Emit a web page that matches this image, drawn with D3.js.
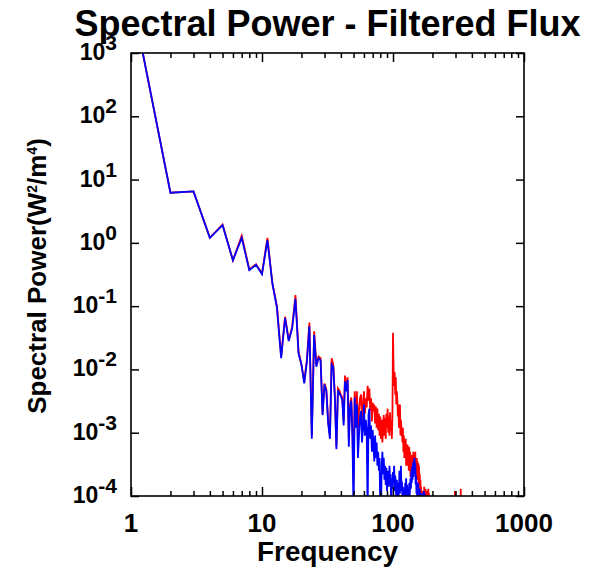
<!DOCTYPE html>
<meta charset="utf-8">
<head>
    <title>Spectral Power - Filtered Flux</title>
    <style>
        body {
            margin: 0;
            background-color: #ffffff;
        }
        text {
            font-family: "Liberation Sans", Arial, sans-serif;
            font-weight: bold;
            fill: #000;
        }
        .axis path {
            display: none;
        }
        .axis line {
            stroke: #000;
            stroke-width: 1.5px;
        }
        .frame {
            fill: none;
            stroke: #000;
            stroke-width: 1.6px;
        }
        .series {
            fill: none;
            stroke-width: 1.8px;
            stroke-linejoin: miter;
        }
    </style>
</head>
<body>
<svg width="592" height="569"></svg>

<script src="https://d3js.org/d3.v7.min.js"></script>
<script>
    // frequencies 1..200 (one value per integer frequency)
    var freq = d3.range(1, 201);

    // blue series (drawn on top)
    var bluePower = [
        8700, 6.2, 6.5, 1.2, 1.9, 0.53, 1.2, 0.37, 0.45, 0.32,
        1.1, 0.23, 0.095, 0.015, 0.065, 0.028, 0.045, 0.13, 0.018, 0.012,
        0.006, 0.013, 0.048, 0.0008, 0.035, 0.011, 0.015, 0.014, 0.0019, 0.0058,
        0.0045, 0.0014, 0.0008, 0.012, 0.011, 0.0035, 0.00055, 0.0047, 0.0042, 0.0038,
        0.0033, 0.0013, 0.0065, 0.0045, 0.0068, 0.0006, 0.0025, 0.0032, 0.0009, 0.00005,
        0.0036, 0.0012, 0.0028, 0.0004, 0.0009, 0.0018, 0.0022, 0.0007, 0.0012, 0.0028,
        0.0009, 0.0016, 0.0011, 0.00005, 0.0019, 0.0024, 0.0008, 0.0013, 0.0005, 0.0011,
        0.0006, 0.00035, 0.0009, 0.0004, 0.0007, 0.0003, 0.0005, 0.00025, 0.0004, 0.00005,
        0.00005, 0.0003, 0.0005, 0.00022, 0.0004, 0.00018, 0.0003, 0.00015, 0.00028, 0.00012,
        0.00025, 0.0002, 0.00014, 0.0003, 0.00017, 0.00022, 0.00005, 0.00019, 0.00013, 0.00024,
        0.00016, 0.0003, 0.00012, 0.00021, 0.00014, 0.00009, 0.00018, 0.00011, 0.00016, 0.00008,
        0.00013, 0.00025, 0.00011, 0.00019, 0.0003, 0.00012, 0.00017, 0.00009, 0.00014, 0.00011,
        0.00008, 0.00013, 0.0001, 0.00016, 0.00012, 0.00019, 0.00009, 0.00015, 0.00011, 0.00007,
        0.00012, 0.00009, 0.00016, 0.0001, 0.00014, 0.00019, 0.00013, 0.00025, 0.00016, 0.00029,
        0.00018, 0.00033, 0.0002, 0.00037, 0.00024, 0.0004, 0.00022, 0.00033, 0.00015, 0.00021,
        0.00011, 0.00017, 0.00008, 0.00014, 0.0001, 0.00016, 0.00007, 0.00012, 0.00009, 0.00013,
        0.00006, 0.0001, 0.00007, 0.00011, 0.00006, 0.00009, 0.00005, 0.00008, 0.00011, 0.00006,
        0.0001, 0.00012, 0.00007, 0.00011, 0.00005, 0.00009, 0.00004, 0.00007, 0.00003, 0.00005,
        0.00003, 0.00005, 0.00002, 0.00004, 0.00002, 0.00003, 0.00002, 0.00002, 0.00001, 0.00002,
        0.00001, 0.00001, 0.00001, 0.00001, 0.00001, 0.00001, 0.00001, 0.00001, 0.00001, 0.00001
    ];

    // red series (underneath)
    var redPower = [
        8700, 6.2, 6.5, 1.2, 1.95, 0.53, 1.3, 0.38, 0.46, 0.33,
        1.2, 0.23, 0.1, 0.016, 0.068, 0.029, 0.047, 0.15, 0.019, 0.012,
        0.0065, 0.014, 0.055, 0.0009, 0.04, 0.012, 0.016, 0.015, 0.002, 0.006,
        0.0048, 0.0015, 0.0009, 0.015, 0.012, 0.0038, 0.0006, 0.005, 0.0046, 0.004,
        0.0036, 0.0015, 0.008, 0.005, 0.0075, 0.0008, 0.0028, 0.0036, 0.0011, 0.00016,
        0.0045, 0.0016, 0.0045, 0.0012, 0.0022, 0.0035, 0.004, 0.0015, 0.0028, 0.0045,
        0.002, 0.0035, 0.0025, 0.0055, 0.0032, 0.005, 0.0022, 0.0035, 0.0015, 0.003,
        0.0022, 0.0028, 0.0014, 0.0026, 0.0012, 0.0024, 0.0011, 0.002, 0.0009, 0.0018,
        0.0008, 0.0016, 0.0007, 0.0013, 0.0019, 0.0009, 0.0017, 0.0008, 0.002, 0.0012,
        0.0024, 0.001, 0.0018, 0.0009, 0.0021, 0.0011, 0.0015, 0.0008, 0.0019, 0.038,
        0.0105, 0.0055, 0.009, 0.004, 0.0075, 0.0028, 0.0045, 0.0032, 0.0018, 0.0028,
        0.0012, 0.0022, 0.0028, 0.0009, 0.0016, 0.0012, 0.0011, 0.0007, 0.0012, 0.0005,
        0.0009, 0.0004, 0.0007, 0.0005, 0.0008, 0.0003, 0.0006, 0.0004, 0.00065, 0.0003,
        0.0005, 0.00025, 0.0006, 0.0003, 0.0005, 0.0002, 0.0004, 0.00025, 0.00045, 0.0002,
        0.0004, 0.0003, 0.0005, 0.00022, 0.0004, 0.00035, 0.0003, 0.0005, 0.0002, 0.00032,
        0.00025, 0.0004, 0.00018, 0.00035, 0.0002, 0.00033, 0.00015, 0.0003, 0.00016, 0.00022,
        0.0001, 0.00018, 0.00008, 0.00014, 0.00006, 0.00012, 0.00005, 0.0001, 0.00004, 0.00008,
        0.00012, 0.00007, 0.00014, 0.00009, 0.00011, 0.00006, 0.00013, 0.00008, 0.00012, 0.00007,
        0.00011, 0.00006, 0.0001, 0.00012, 0.00008, 0.00013, 0.00006, 0.00011, 0.00005, 0.00007,
        0.00004, 0.00006, 0.00003, 0.00004, 0.00002, 0.00003, 0.00002, 0.00002, 0.00001, 0.00001
    ];

    // sparse red tail above 200
    var redTailFreq = [250, 296, 297, 298, 328, 329, 330, 400];
    var redTailPower = [0.00001, 0.00002, 0.00012, 0.00002, 0.00002, 0.00013, 0.00002, 0.00001];

    var xTickLabels = ["1", "10", "100", "1000"];
    var xTickValues = [1, 10, 100, 1000];
    var yExponents = [3, 2, 1, 0, -1, -2, -3, -4];

    var svg = d3.select("svg"),
        margin = {top: 53, right: 68, bottom: 73, left: 131},
        width = +svg.attr("width") - margin.left - margin.right,
        height = +svg.attr("height") - margin.top - margin.bottom;

    var x = d3.scaleLog().domain([1, 1000]).range([0, width]);
    var y = d3.scaleLog().domain([1e-4, 1e3]).range([height, 0]);

    var g = svg.append("g")
        .attr("transform", "translate(" + margin.left + "," + margin.top + ")");

    g.append("clipPath")
        .attr("id", "plotclip")
        .append("rect")
        .attr("width", width)
        .attr("height", height);

    var redData = freq.map(function(f, i) { return {f: f, v: redPower[i]}; })
        .concat(redTailFreq.map(function(f, i) { return {f: f, v: redTailPower[i]}; }));
    var blueData = freq.map(function(f, i) { return {f: f, v: bluePower[i]}; });

    var line = d3.line()
        .x(function(d) { return x(d.f); })
        .y(function(d) { return y(d.v); });

    var plot = g.append("g").attr("clip-path", "url(#plotclip)");

    plot.append("path")
        .datum(redData)
        .attr("class", "series")
        .attr("stroke", "#ff0000")
        .attr("d", line);

    plot.append("path")
        .datum(blueData)
        .attr("class", "series")
        .attr("stroke", "#0000ff")
        .attr("d", line);

    // ticks, pointing inward on all four sides
    var minorX = x.ticks().filter(function(d) { return xTickValues.indexOf(d) < 0; });

    g.append("g").attr("class", "axis")
        .attr("transform", "translate(0," + height + ")")
        .call(d3.axisBottom(x).tickValues(xTickValues).tickSize(-9).tickFormat(""));
    g.append("g").attr("class", "axis")
        .attr("transform", "translate(0," + height + ")")
        .call(d3.axisBottom(x).tickValues(minorX).tickSize(-5).tickFormat(""));
    g.append("g").attr("class", "axis")
        .call(d3.axisTop(x).tickValues(xTickValues).tickSize(-9).tickFormat(""));
    g.append("g").attr("class", "axis")
        .call(d3.axisTop(x).tickValues(minorX).tickSize(-5).tickFormat(""));

    var yTickValues = yExponents.map(function(e) { return Math.pow(10, e); });
    g.append("g").attr("class", "axis")
        .call(d3.axisLeft(y).tickValues(yTickValues).tickSize(-8).tickFormat(""));
    g.append("g").attr("class", "axis")
        .attr("transform", "translate(" + width + ",0)")
        .call(d3.axisRight(y).tickValues(yTickValues).tickSize(-8).tickFormat(""));

    g.append("rect")
        .attr("class", "frame")
        .attr("width", width)
        .attr("height", height);

    // x tick labels
    g.selectAll(".xlabel")
        .data(xTickValues)
        .enter().append("text")
        .attr("class", "xlabel")
        .attr("x", function(d) { return x(d); })
        .attr("y", height + 36)
        .attr("text-anchor", "middle")
        .style("font-size", "26px")
        .text(function(d, i) { return xTickLabels[i]; });

    // y tick labels 10^n
    var ylab = g.selectAll(".ylabel")
        .data(yExponents)
        .enter().append("text")
        .attr("class", "ylabel")
        .attr("x", -14)
        .attr("y", function(d) { return y(Math.pow(10, d)) + 7; })
        .attr("text-anchor", "end")
        .style("font-size", "23px");
    ylab.append("tspan").text("10");
    ylab.append("tspan")
        .attr("dy", -10)
        .style("font-size", "21px")
        .text(function(d) { return d < 0 ? "-" + (-d) : "" + d; });

    // titles
    svg.append("text")
        .attr("x", margin.left + width / 2)
        .attr("y", 36)
        .attr("text-anchor", "middle")
        .style("font-size", "36px")
        .text("Spectral Power - Filtered Flux");

    svg.append("text")
        .attr("x", margin.left + width / 2)
        .attr("y", 561)
        .attr("text-anchor", "middle")
        .style("font-size", "27px")
        .attr("textLength", 141)
        .attr("lengthAdjust", "spacingAndGlyphs")
        .text("Frequency");

    var yt = svg.append("text")
        .attr("transform", "translate(46," + 276 + ") rotate(-90)")
        .attr("text-anchor", "middle")
        .style("font-size", "26px");
    yt.append("tspan").text("Spectral Power(W");
    yt.append("tspan").attr("dy", -9).style("font-size", "14px").text("2");
    yt.append("tspan").attr("dy", 9).text("/m");
    yt.append("tspan").attr("dy", -9).style("font-size", "14px").text("4");
    yt.append("tspan").attr("dy", 9).text(")");
</script>
</body>
